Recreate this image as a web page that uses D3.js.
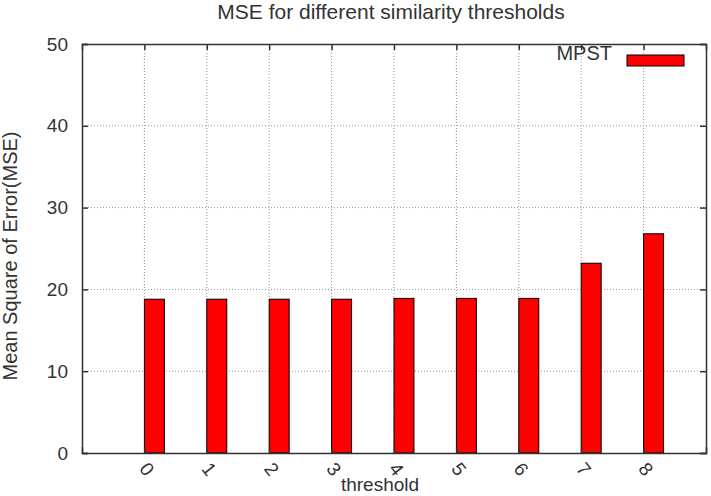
<!DOCTYPE html>
<html>
<head>
<meta charset="utf-8">
<script src="https://cdn.jsdelivr.net/npm/d3@7"></script>
<style>
  body { margin: 0; background: #fff; }
  text { font-family: "Liberation Sans", Arial, sans-serif; fill: #333; }
</style>
</head>
<body>
<div id="chart"></div>
<script>
// dane
const thresholds = ["0", "1", "2", "3", "4", "5", "6", "7", "8"];
const mpst = [18.8, 18.8, 18.8, 18.8, 18.9, 18.9, 18.9, 23.2, 26.8];
const yTicks = [0, 10, 20, 30, 40, 50];
const seriesName = "MPST";

const width = 711;
const height = 496;
const margin = { top: 44, right: 5, bottom: 43, left: 82 };

const svg = d3.select("#chart")
  .append("svg")
  .attr("width", width)
  .attr("height", height);

// skala X: pozycje progow od -1 do 9
const x = d3.scaleLinear()
  .domain([-1, 9])
  .range([margin.left, width - margin.right]);

const y = d3.scaleLinear()
  .domain([0, 50])
  .range([height - margin.bottom, margin.top]);

const barW = 0.32;

// siatka
svg.append("g")
  .selectAll("line")
  .data(thresholds)
  .enter()
  .append("line")
  .attr("x1", (d, i) => x(i))
  .attr("x2", (d, i) => x(i))
  .attr("y1", y(0))
  .attr("y2", y(50))
  .attr("stroke", "#999")
  .attr("stroke-dasharray", "1,2");

svg.append("g")
  .selectAll("line")
  .data(yTicks.slice(1, -1))
  .enter()
  .append("line")
  .attr("x1", x(-1))
  .attr("x2", x(9))
  .attr("y1", d => y(d))
  .attr("y2", d => y(d))
  .attr("stroke", "#999")
  .attr("stroke-dasharray", "1,2");

// slupki
svg.append("g")
  .selectAll("rect")
  .data(mpst)
  .enter()
  .append("rect")
  .attr("x", (d, i) => x(i))
  .attr("y", d => y(d))
  .attr("width", x(barW) - x(0))
  .attr("height", d => y(0) - y(d))
  .attr("fill", "#ff0000")
  .attr("stroke", "#000")
  .attr("stroke-width", 1);

// osie
const yAxis = svg.append("g")
  .attr("transform", "translate(" + margin.left + ",0)")
  .call(d3.axisLeft(y).tickValues(yTicks).tickSize(-6).tickPadding(14));

const yAxisR = svg.append("g")
  .attr("transform", "translate(" + (width - margin.right) + ",0)")
  .call(d3.axisRight(y).tickValues(yTicks).tickSize(-6).tickFormat(""));

const xAxis = svg.append("g")
  .attr("transform", "translate(0," + (height - margin.bottom) + ")")
  .call(d3.axisBottom(x).tickValues(d3.range(thresholds.length)).tickSize(-6).tickFormat(i => thresholds[i]));

const xAxisT = svg.append("g")
  .attr("transform", "translate(0," + margin.top + ")")
  .call(d3.axisTop(x).tickValues(d3.range(thresholds.length)).tickSize(-6).tickFormat(""));

[yAxis, yAxisR, xAxis, xAxisT].forEach(g => {
  g.select(".domain").attr("stroke", "#333").attr("stroke-width", 1.5);
  g.selectAll(".tick line").attr("stroke", "#333").attr("stroke-width", 1.5);
  g.selectAll("text").attr("font-size", 19).attr("fill", "#333");
});

xAxis.selectAll("text")
  .attr("y", 0)
  .attr("dy", "0.35em")
  .attr("text-anchor", "middle")
  .attr("transform", "translate(2,16) rotate(52)");

// tytul i opisy osi
svg.append("text")
  .attr("x", 391)
  .attr("y", 19)
  .attr("text-anchor", "middle")
  .attr("font-size", 21)
  .text("MSE for different similarity thresholds");

svg.append("text")
  .attr("transform", "translate(17,256) rotate(-90)")
  .attr("text-anchor", "middle")
  .attr("font-size", 20)
  .text("Mean Square of Error(MSE)");

svg.append("text")
  .attr("x", 380)
  .attr("y", 491)
  .attr("text-anchor", "middle")
  .attr("font-size", 19)
  .text("threshold");

// legenda
svg.append("text")
  .attr("x", 612)
  .attr("y", 60)
  .attr("text-anchor", "end")
  .attr("font-size", 20)
  .text(seriesName);

svg.append("rect")
  .attr("x", 627)
  .attr("y", 55)
  .attr("width", 57)
  .attr("height", 11)
  .attr("fill", "#ff0000")
  .attr("stroke", "#000");
</script>
</body>
</html>
